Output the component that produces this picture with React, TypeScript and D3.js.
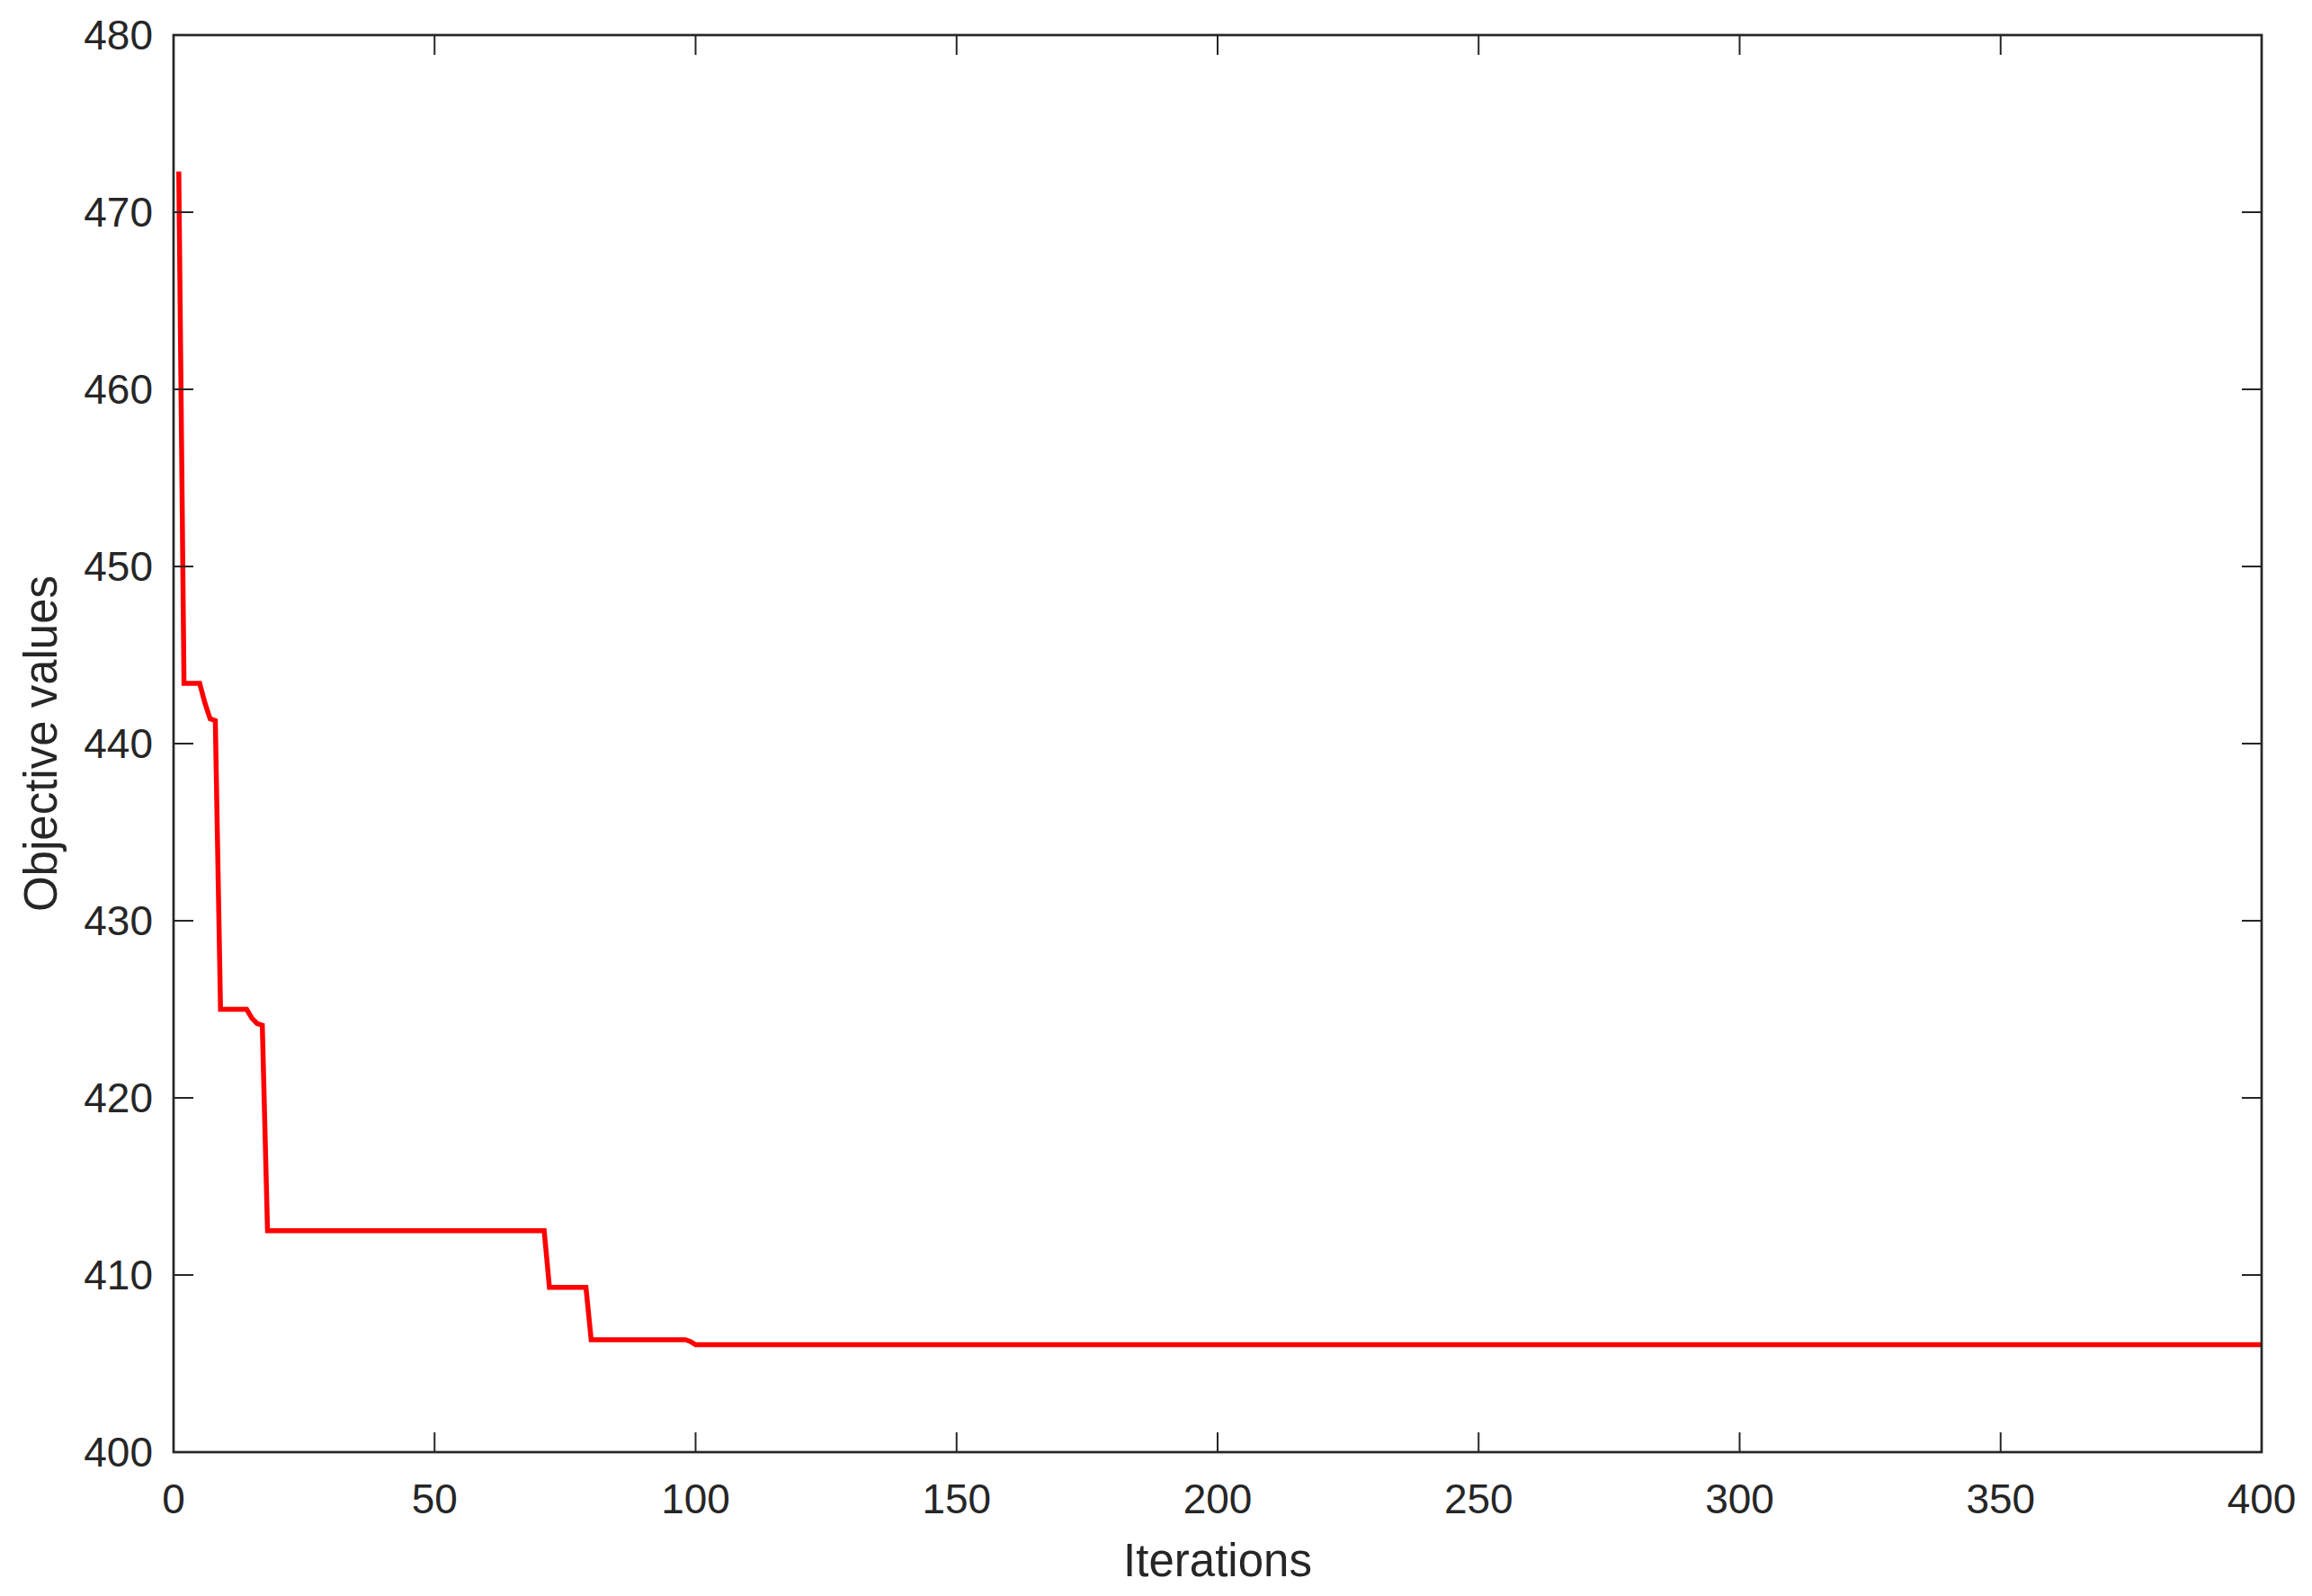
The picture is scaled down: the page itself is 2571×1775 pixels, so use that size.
import React from "react";
import * as d3 from "d3";

const iterations = [1, 2, 5, 6, 7, 8, 9, 14, 15, 16, 17, 18, 71, 72, 79, 80, 98, 99, 100, 400];
const objectiveValues = [472.3, 443.4, 443.4, 442.3, 441.4, 441.3, 425.0, 425.0, 424.5, 424.2, 424.1, 412.5, 412.5, 409.3, 409.3, 406.35, 406.35, 406.25, 406.06, 406.06];
const xTicks = [0, 50, 100, 150, 200, 250, 300, 350, 400];
const yTicks = [400, 410, 420, 430, 440, 450, 460, 470, 480];

const W = 2571;
const H = 1775;
const L = 193, R = 2515, T = 39, B = 1615;
const ink = "#262626";
const font = "'Liberation Sans', Arial, Helvetica, sans-serif";

export default function App() {
  const x = d3.scaleLinear().domain([0, 400]).range([L, R]);
  const y = d3.scaleLinear().domain([400, 480]).range([B, T]);
  const pts = iterations.map((it, i) => [it, objectiveValues[i]] as [number, number]);
  const line = d3.line<[number, number]>().x((d) => x(d[0])).y((d) => y(d[1]));
  const tl = 22;
  return (
    <svg width={W} height={H} style={{ position: "absolute", left: 0, top: 0, background: "#fff" }} xmlns="http://www.w3.org/2000/svg">
      <rect x={0} y={0} width={W} height={H} fill="#fff" />
      <defs>
        <clipPath id="plotclip">
          <rect x={L} y={T} width={R - L} height={B - T} />
        </clipPath>
      </defs>
      <path d={line(pts) || ""} fill="none" stroke="#ff0000" strokeWidth={5.5} strokeLinejoin="miter" clipPath="url(#plotclip)" />
      {/* ticks */}
      {xTicks.map((t) => (
        <g key={"x" + t}>
          <line x1={x(t)} x2={x(t)} y1={B} y2={B - tl} stroke={ink} strokeWidth={2} />
          <line x1={x(t)} x2={x(t)} y1={T} y2={T + tl} stroke={ink} strokeWidth={2} />
          <text x={x(t)} y={1683} textAnchor="middle" fontFamily={font} fontSize={46} fill={ink}>{t}</text>
        </g>
      ))}
      {yTicks.map((t) => (
        <g key={"y" + t}>
          <line x1={L} x2={L + tl} y1={y(t)} y2={y(t)} stroke={ink} strokeWidth={2} />
          <line x1={R} x2={R - tl} y1={y(t)} y2={y(t)} stroke={ink} strokeWidth={2} />
          <text x={170} y={y(t)} dy="0.35em" textAnchor="end" fontFamily={font} fontSize={46} fill={ink}>{t}</text>
        </g>
      ))}
      <rect x={L} y={T} width={R - L} height={B - T} fill="none" stroke={ink} strokeWidth={2.7} />
      <text x={(L + R) / 2} y={1753} textAnchor="middle" fontFamily={font} fontSize={51} fill={ink}>Iterations</text>
      <text transform={`translate(63, ${(T + B) / 2}) rotate(-90)`} textAnchor="middle" fontFamily={font} fontSize={51} fill={ink}>Objective values</text>
    </svg>
  );
}
